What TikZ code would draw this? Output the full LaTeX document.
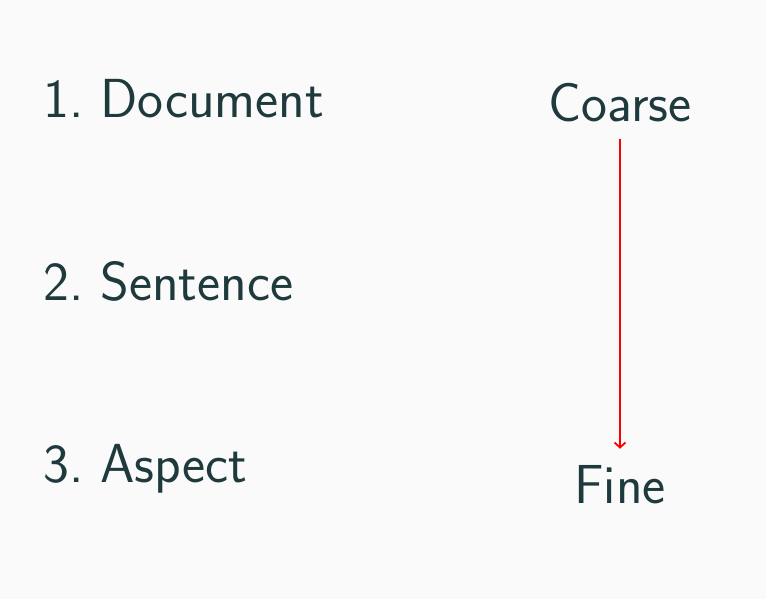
\documentclass[tikz,border=0pt]{standalone}
\usepackage{xcolor}
\usetikzlibrary{arrows.meta}
\definecolor{mDark}{HTML}{1F3A3D}
\definecolor{mBack}{HTML}{FAFAFA}
\begin{document}
\frenchspacing
\begin{tikzpicture}[x=1pt,y=-1pt,line join=round,>={Straight Barb[length=5pt,width=11pt]},
    font=\sffamily\fontsize{55}{66}\selectfont]
    \tikzset{level/.style={anchor=base west,inner sep=0pt,text=mDark},
             scale label/.style={anchor=base,inner sep=16pt,text=mDark}}
    \fill[mBack] (0,0) rectangle (766,599);
    \useasboundingbox (0,0) rectangle (766,599);
    % granularity levels
    \node[level] (doc) at (43,118) {1. Document};
    \node[level] (sent) at (43,300) {2. Sentence};
    \node[level] (asp) at (43,482) {3. Aspect};
    % coarse to fine
    \node[scale label] (coarse) at (620,122) {Coarse};
    \node[scale label] (fine) at (620,503) {Fine};
    \draw[->,red,line width=1.8pt] (coarse.south) -- (fine.north);
\end{tikzpicture}
\end{document}
